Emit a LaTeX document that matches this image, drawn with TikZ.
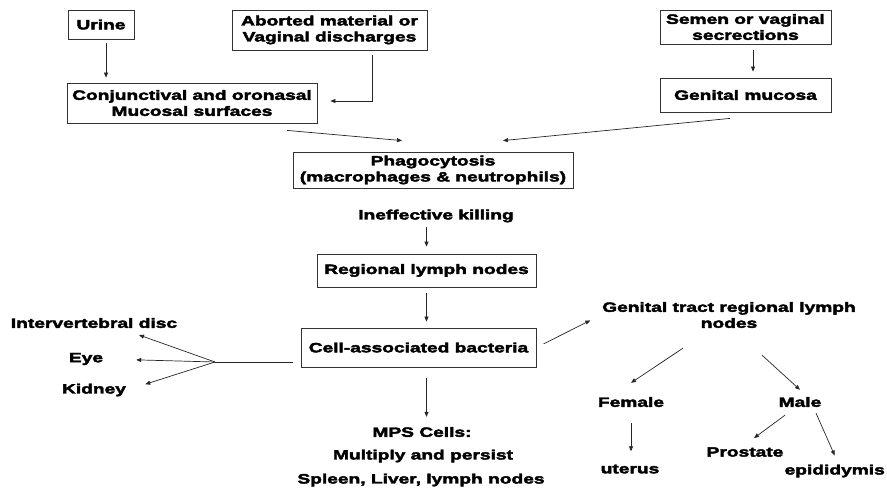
\documentclass[tikz,border=0pt]{standalone}
\usepackage{fontspec}
\setmainfont{Liberation Sans}[FakeStretch=1.42,BoldFeatures={FakeBold=3}]
\usetikzlibrary{arrows.meta}

\begin{document}
\begin{tikzpicture}[x=1pt,y=-1pt,
    font=\fontsize{13.5}{16}\selectfont\bfseries,
    box/.style={draw=black!80,line width=0.8pt,inner sep=0pt,align=center},
    lbl/.style={inner sep=1pt,align=center},
    arr/.style={-{Triangle[length=5pt,width=4pt]},line width=0.7pt,draw=black!85}]
    \useasboundingbox (0,0) rectangle (887,489);
    % sources of infection
    \node[box,minimum width=66,minimum height=29] (urine) at (101,24.5) {Urine};
    \node[box,minimum width=195,minimum height=40] (aborted) at (329.5,30) {Aborted material or\\Vaginal discharges};
    \node[box,minimum width=250,minimum height=40] (conj) at (192,103) {Conjunctival and oronasal\\Mucosal surfaces};
    \node[box,minimum width=171,minimum height=34] (semen) at (745.5,27) {Semen or vaginal\\secrections};
    \node[box,minimum width=171,minimum height=34] (genital) at (745.5,95) {Genital mucosa};
    % main chain
    \node[box,minimum width=280,minimum height=36] (phago) at (433,170) {Phagocytosis\\(macrophages \& neutrophils)};
    \node[lbl] (kill) at (436,216) {Ineffective killing};
    \node[box,minimum width=219,minimum height=33] (regional) at (426.5,270.5) {Regional lymph nodes};
    \node[box,minimum width=235,minimum height=39] (cell) at (418.5,347.5) {Cell-associated bacteria};
    \node[lbl] (mps) at (422,432) {MPS Cells:};
    \node[lbl] (persist) at (423,456) {Multiply and persist};
    \node[lbl] (organs) at (421,480) {Spleen, Liver, lymph nodes};
    % left branch
    \node[lbl] (disc) at (94,323) {Intervertebral disc};
    \node[lbl] (eye) at (86,359) {Eye};
    \node[lbl] (kidney) at (94,390) {Kidney};
    % right branch
    \node[lbl] (gtract) at (729,315) {Genital tract regional lymph\\nodes};
    \node[lbl] (female) at (631,402) {Female};
    \node[lbl] (male) at (800,402) {Male};
    \node[lbl] (uterus) at (630,469) {uterus};
    \node[lbl] (prostate) at (745,452) {Prostate};
    \node[lbl,anchor=east] (epi) at (886,471) {epididymis};
    \coordinate (fan) at (215,362);

    \draw[arr,shorten <=4pt,shorten >=5pt] ([xshift=5pt]urine.south) -- ([xshift=5pt]urine.south |- conj.north);
    \draw[arr,shorten <=5pt,shorten >=13pt] ([xshift=42.5pt]aborted.south) |- ([yshift=2pt]conj.east);
    \draw[arr,shorten <=6pt,shorten >=6pt] ([xshift=7.5pt]semen.south) -- ([xshift=7.5pt]semen.south |- genital.north);
    \draw[arr] ([xshift=95pt,yshift=-7pt]conj.south) -- ([xshift=-31pt,yshift=11pt]phago.north);
    \draw[arr] ([xshift=-15.5pt,yshift=-6pt]genital.south) -- ([xshift=70pt,yshift=11pt]phago.north);
    \draw[arr,shorten <=3pt,shorten >=7pt] (kill.south -| regional.north) -- (regional.north);
    \draw[arr,shorten <=6pt,shorten >=6pt] (regional.south) -- (regional.south |- cell.north);
    \draw[arr,shorten <=11pt,shorten >=9pt] (regional.south |- cell.south) -- (regional.south |- mps.north);
    \draw[line width=0.7pt,black!85,shorten <=8pt] ([yshift=-14.5pt]cell.west) -- (fan);
    \draw[arr] (fan) -- ([xshift=45pt,yshift=-12pt]disc.center);
    \draw[arr,shorten >=32pt] (fan) -- (eye.east);
    \draw[arr,shorten >=19pt] (fan) -- (kidney.east);
    \draw[arr,shorten <=8pt,shorten >=12pt] (cell.east) -- (gtract.west);
    \draw[arr] ([xshift=-46pt,yshift=-19pt]gtract.south) -- ([yshift=13pt]female.north);
    \draw[arr] ([xshift=33pt,yshift=-26pt]gtract.south) -- ([yshift=6pt]male.north);
    \draw[arr,shorten <=15pt,shorten >=12pt] (female.south) -- (female.south |- uterus.north);
    \draw[arr] ([xshift=-15pt,yshift=-7pt]male.south) -- ([xshift=9pt,yshift=8pt]prostate.north);
    \draw[arr] ([xshift=16pt,yshift=-5pt]male.south) -- ([yshift=8pt]epi.north);
\end{tikzpicture}
\end{document}
